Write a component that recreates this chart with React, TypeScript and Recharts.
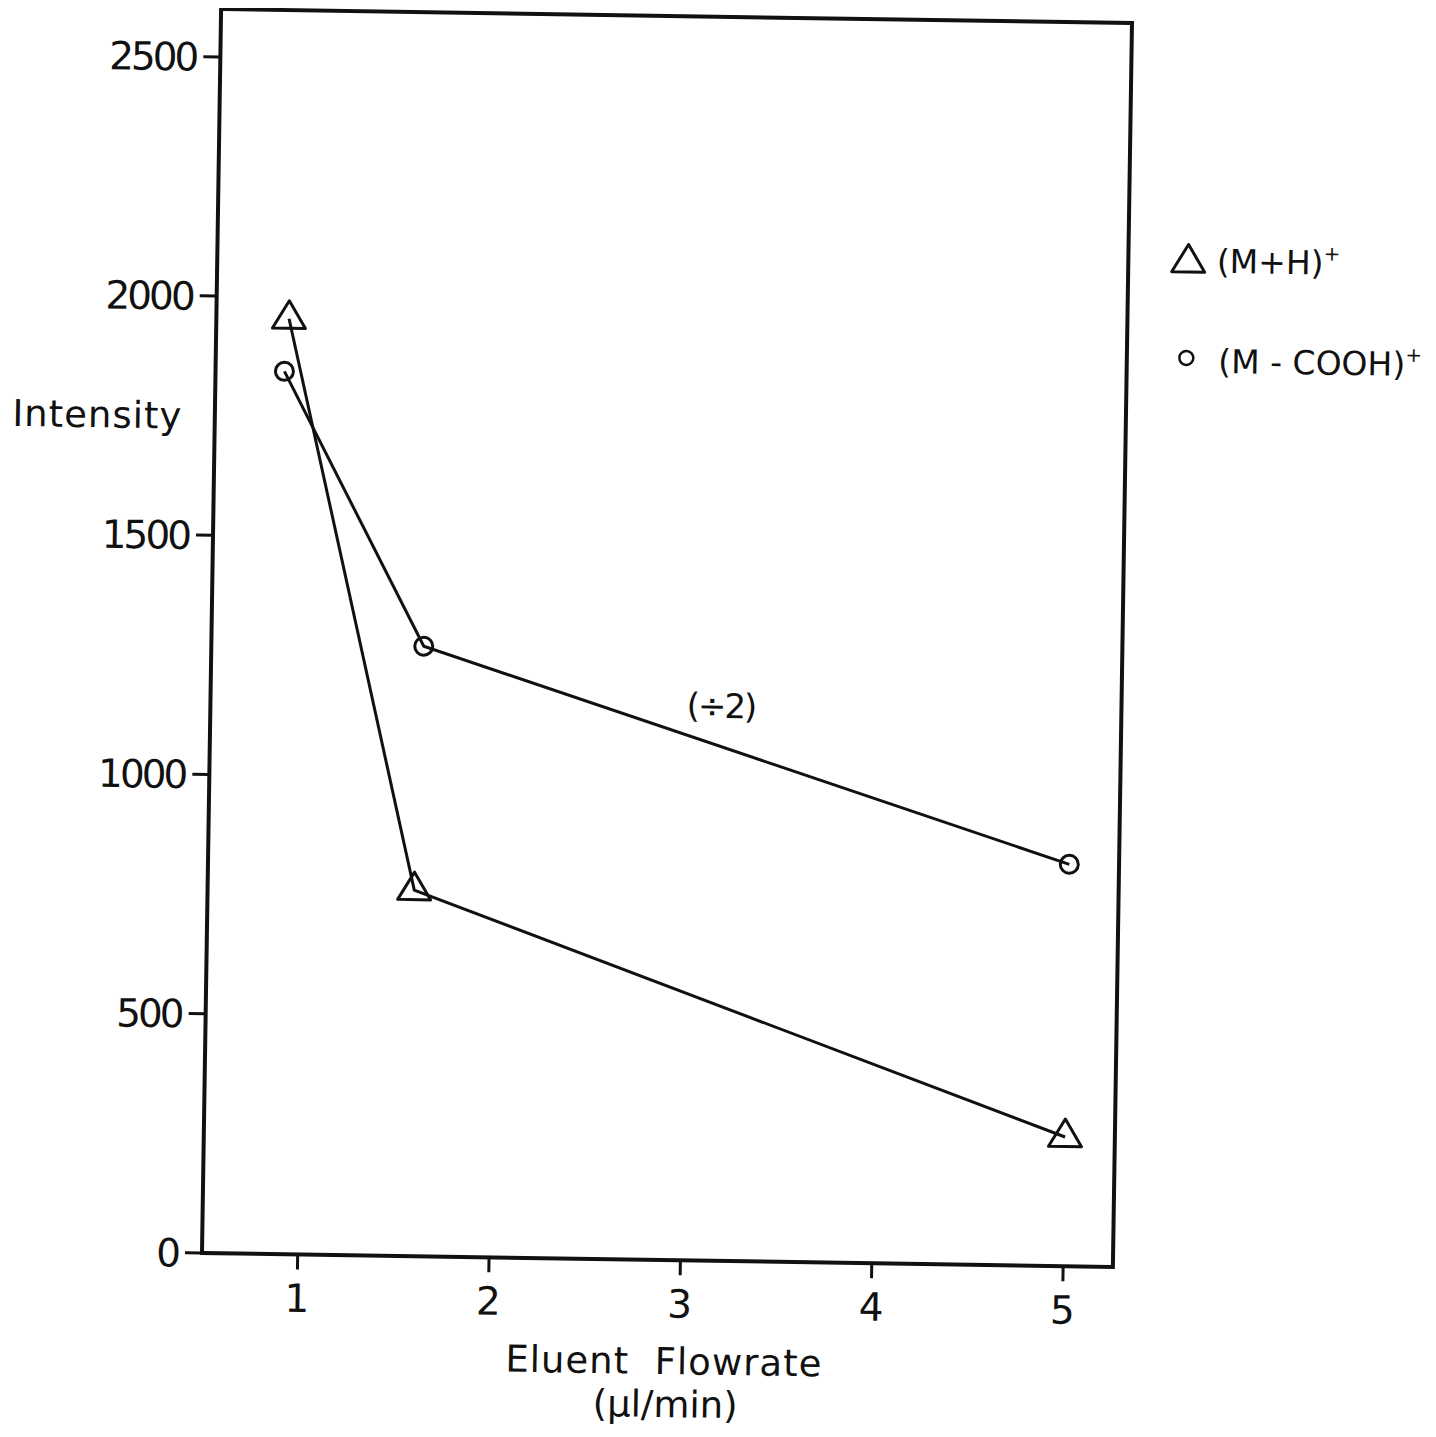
import { ScatterChart, Scatter, XAxis, YAxis, ReferenceArea } from 'recharts'

// (M+H)+ ion
const mhFlow = [0.88, 1.58, 5.0]
const mhIntensity = [1955, 765, 270]

// (M-COOH)+ ion, plotted divided by 2
const mcoohFlow = [0.86, 1.61, 5.0]
const mcoohIntensity = [1845, 1275, 840]

const xTicks = [1, 2, 3, 4, 5]
const yTicks = [0, 500, 1000, 1500, 2000, 2500]
const xDomain: [number, number] = [0.5, 5.26]
const yDomain: [number, number] = [0, 2600]

const INK = '#111'
const FONT = '"DejaVu Sans", sans-serif'

const mhData = mhFlow.map((x, i) => ({ x, y: mhIntensity[i] }))
const mcoohData = mcoohFlow.map((x, i) => ({ x, y: mcoohIntensity[i] }))

const triPath = (cx: number, cy: number) =>
  `M${cx},${cy - 18}L${cx + 16.5},${cy + 9.5}L${cx - 16.5},${cy + 9.5}Z`

// eslint-disable-next-line @typescript-eslint/no-explicit-any
const TriangleMark = (p: any) => (
  <path d={triPath(p.cx, p.cy)} fill="none" stroke={INK} strokeWidth={3} strokeLinejoin="round" />
)

// eslint-disable-next-line @typescript-eslint/no-explicit-any
const CircleMark = (p: any) => (
  <circle cx={p.cx} cy={p.cy} r={9} fill="none" stroke={INK} strokeWidth={3} />
)

// eslint-disable-next-line @typescript-eslint/no-explicit-any
const YTick = (p: any) => (
  <text x={p.x} y={p.y} dy="0.36em" textAnchor="end" fill={INK} fontFamily={FONT} fontSize={39} letterSpacing={-3}>
    {p.payload.value}
  </text>
)

// eslint-disable-next-line @typescript-eslint/no-explicit-any
const XTick = (p: any) => (
  <text x={p.x} y={p.y} dy="0.73em" textAnchor="middle" fill={INK} fontFamily={FONT} fontSize={39}>
    {p.payload.value}
  </text>
)

export default function App() {
  return (
    <div style={{ position: 'relative', width: 1420, height: 1428, overflow: 'hidden' }}>
      {/* the whole sheet sits slightly tilted */}
      <div
        style={{
          position: 'relative',
          width: 1420,
          height: 1428,
          background: '#fff',
          transform: 'rotate(0.88deg)',
          transformOrigin: '659px 629px',
        }}
      >
        <ScatterChart width={1420} height={1420} margin={{ top: 8, right: 305.5, bottom: 108, left: 143.5 }}>
          <XAxis
            type="number"
            dataKey="x"
            domain={xDomain}
            ticks={xTicks}
            allowDataOverflow
            height={60}
            axisLine={false}
            tickLine={{ stroke: INK, strokeWidth: 3 }}
            tickSize={15}
            tickMargin={14}
            tick={XTick}
          />
          <YAxis
            type="number"
            dataKey="y"
            domain={yDomain}
            ticks={yTicks}
            allowDataOverflow
            width={60}
            axisLine={false}
            tickLine={{ stroke: INK, strokeWidth: 3 }}
            tickSize={17}
            tickMargin={7}
            tick={YTick}
          />
          {/* frame around the plot */}
          <ReferenceArea
            x1={xDomain[0]}
            x2={xDomain[1]}
            y1={yDomain[0]}
            y2={yDomain[1]}
            fill="none"
            stroke={INK}
            strokeWidth={4}
          />
          <Scatter
            data={mhData}
            line={{ stroke: INK, strokeWidth: 3 }}
            shape={TriangleMark}
            isAnimationActive={false}
          />
          <Scatter
            data={mcoohData}
            line={{ stroke: INK, strokeWidth: 3 }}
            shape={CircleMark}
            isAnimationActive={false}
          />
        </ScatterChart>
        <svg
          width={1420}
          height={1428}
          style={{ position: 'absolute', left: 0, top: 0, pointerEvents: 'none' }}
          fontFamily={FONT}
          fill={INK}
        >
          <text x={86} y={428} fontSize={37} textAnchor="middle" letterSpacing={1}>
            Intensity
          </text>
          <text x={667} y={1366} fontSize={37} textAnchor="middle" letterSpacing={1}>
            {'Eluent\u00a0\u00a0Flowrate'}
          </text>
          <text x={669} y={1409} fontSize={37} textAnchor="middle">
            (µl/min)
          </text>
          <text x={714} y={709} fontSize={34} textAnchor="middle" letterSpacing={-2}>
            (÷2)
          </text>

          {/* legend */}
          <path d={triPath(1174.5, 246.5)} fill="none" stroke={INK} strokeWidth={3} strokeLinejoin="round" />
          <text x={1203} y={256.5} fontSize={33}>
            (M+H)<tspan fontSize={20} dy={-14}>+</tspan>
          </text>
          <circle cx={1174} cy={342} r={7} fill="none" stroke={INK} strokeWidth={2.5} />
          <text x={1206} y={356.5} fontSize={33}>
            (M - COOH)<tspan fontSize={20} dy={-14}>+</tspan>
          </text>
        </svg>
      </div>
    </div>
  )
}
